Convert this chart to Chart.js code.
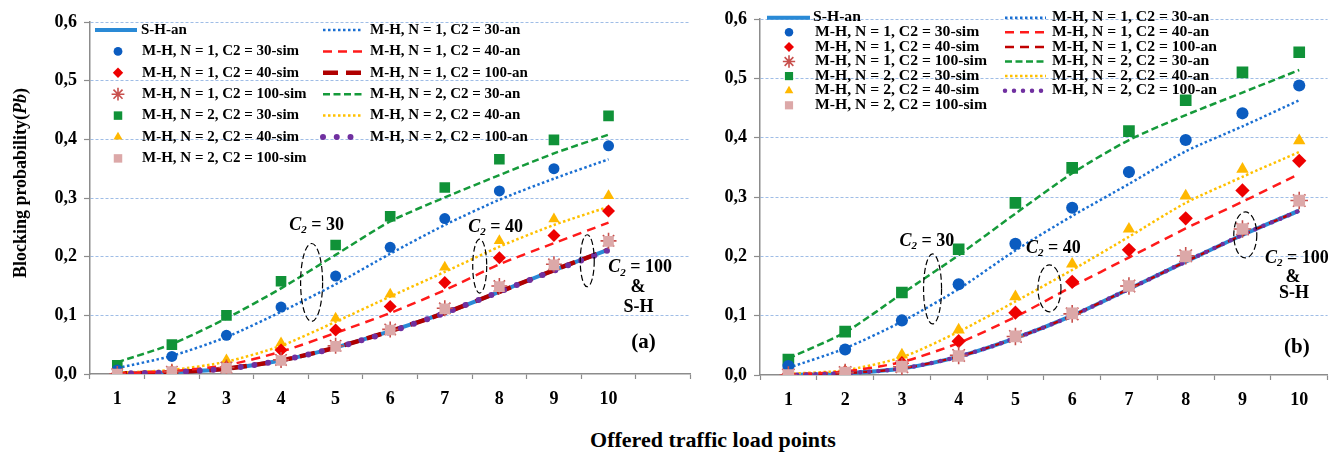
<!DOCTYPE html>
<html>
<head>
<meta charset="utf-8">
<script src="https://cdn.jsdelivr.net/npm/chart.js@4.4.1/dist/chart.umd.min.js"></script>
<style>
  body { margin: 0; background: #fff; width: 1338px; height: 457px; position: relative; overflow: hidden; }
  #wa { position: absolute; left: 0; top: 0; width: 700px; height: 420px; }
  #wb { position: absolute; left: 700px; top: 0; width: 638px; height: 420px; }
  #xt { position: absolute; left: 713px; top: 427px; transform: translateX(-50%); white-space: nowrap;
        font: bold 22px 'Liberation Serif', serif; color: #000; }
</style>
</head>
<body>
<div id="wa"><canvas id="ca"></canvas></div>
<div id="wb"><canvas id="cb"></canvas></div>
<div id="xt">Offered traffic load points</div>
<script>
const loads = ['1', '2', '3', '4', '5', '6', '7', '8', '9', '10'];
const yTicks = ['0,0', '0,1', '0,2', '0,3', '0,4', '0,5', '0,6'];

// (a)
const shAnA      = [0.001, 0.003, 0.009, 0.023, 0.045, 0.073, 0.104, 0.140, 0.177, 0.212];
const n1c30SimA  = [0.007, 0.030, 0.066, 0.114, 0.167, 0.216, 0.265, 0.312, 0.350, 0.389];
const n1c40SimA  = [0.001, 0.004, 0.012, 0.041, 0.075, 0.115, 0.156, 0.198, 0.236, 0.278];
const n1c100SimA = [0.000, 0.004, 0.011, 0.024, 0.048, 0.076, 0.112, 0.150, 0.187, 0.227];
const n2c30SimA  = [0.015, 0.050, 0.100, 0.158, 0.220, 0.269, 0.318, 0.366, 0.399, 0.440];
const n2c40SimA  = [0.002, 0.006, 0.024, 0.053, 0.095, 0.136, 0.182, 0.227, 0.264, 0.304];
const n2c100SimA = [0.000, 0.004, 0.010, 0.023, 0.047, 0.075, 0.111, 0.149, 0.186, 0.226];
const n1c30AnA   = [0.010, 0.031, 0.063, 0.106, 0.153, 0.205, 0.254, 0.297, 0.333, 0.366];
const n1c40AnA   = [0.001, 0.005, 0.015, 0.038, 0.070, 0.104, 0.143, 0.187, 0.223, 0.258];
const n1c100AnA  = [0.001, 0.003, 0.009, 0.023, 0.045, 0.073, 0.104, 0.140, 0.177, 0.212];
const n2c30AnA   = [0.020, 0.051, 0.095, 0.146, 0.203, 0.260, 0.301, 0.339, 0.376, 0.408];
const n2c40AnA   = [0.002, 0.007, 0.021, 0.048, 0.089, 0.132, 0.174, 0.217, 0.254, 0.285];
const n2c100AnA  = [0.001, 0.003, 0.009, 0.023, 0.045, 0.072, 0.104, 0.140, 0.176, 0.211];

// (b)
const shAnB      = [0.000, 0.003, 0.011, 0.031, 0.062, 0.100, 0.145, 0.191, 0.236, 0.277];
const n1c30SimB  = [0.015, 0.043, 0.092, 0.153, 0.221, 0.282, 0.342, 0.396, 0.441, 0.488];
const n1c40SimB  = [0.001, 0.005, 0.020, 0.057, 0.105, 0.157, 0.211, 0.264, 0.311, 0.361];
const n1c100SimB = [0.000, 0.004, 0.014, 0.033, 0.065, 0.103, 0.150, 0.201, 0.246, 0.294];
const n2c30SimB  = [0.026, 0.073, 0.139, 0.212, 0.290, 0.349, 0.411, 0.463, 0.510, 0.544];
const n2c40SimB  = [0.001, 0.006, 0.034, 0.076, 0.132, 0.187, 0.246, 0.302, 0.347, 0.395];
const n2c100SimB = [0.000, 0.004, 0.014, 0.032, 0.065, 0.104, 0.150, 0.200, 0.246, 0.294];
const n1c30AnB   = [0.012, 0.045, 0.090, 0.145, 0.210, 0.268, 0.322, 0.377, 0.419, 0.463];
const n1c40AnB   = [0.001, 0.006, 0.022, 0.054, 0.098, 0.149, 0.198, 0.247, 0.292, 0.339];
const n1c100AnB  = [0.000, 0.003, 0.011, 0.031, 0.062, 0.100, 0.145, 0.191, 0.236, 0.277];
const n2c30AnB   = [0.028, 0.072, 0.137, 0.202, 0.272, 0.340, 0.396, 0.438, 0.476, 0.514];
const n2c40AnB   = [0.002, 0.008, 0.030, 0.073, 0.124, 0.177, 0.233, 0.290, 0.334, 0.376];
const n2c100AnB  = [0.000, 0.003, 0.011, 0.031, 0.062, 0.100, 0.145, 0.191, 0.236, 0.277];

const names = {
  sh: 'S-H-an',
  s130: 'M-H, N = 1, C2 = 30-sim', s140: 'M-H, N = 1, C2 = 40-sim', s1100: 'M-H, N = 1, C2 = 100-sim',
  s230: 'M-H, N = 2, C2 = 30-sim', s240: 'M-H, N = 2, C2 = 40-sim', s2100: 'M-H, N = 2, C2 = 100-sim',
  a130: 'M-H, N = 1, C2 = 30-an', a140: 'M-H, N = 1, C2 = 40-an', a1100: 'M-H, N = 1, C2 = 100-an',
  a230: 'M-H, N = 2, C2 = 30-an', a240: 'M-H, N = 2, C2 = 40-an', a2100: 'M-H, N = 2, C2 = 100-an'
};

const SERIF = "'Liberation Serif', 'Times New Roman', serif";
Chart.defaults.font.family = SERIF;
Chart.defaults.font.weight = 'bold';
Chart.defaults.color = '#000';

function line(label, data, color, width, dash, order, cap) {
  return { label, data, borderColor: color, backgroundColor: color, borderWidth: width, borderDash: dash,
           borderCapStyle: cap || 'butt', pointRadius: 0, pointHoverRadius: 0, tension: 0.25, fill: false, order };
}
function mark(label, data, color, style, r, order) {
  const star = style === 'star';
  return { label, data, showLine: false, pointStyle: style, pointRadius: r, pointHoverRadius: r,
           pointBackgroundColor: color, pointBorderColor: color, pointBorderWidth: star ? 1.6 : 0,
           borderColor: color, backgroundColor: color, order };
}

// dataset order: 0 S-H, 1-6 sims, 7-12 analytical
function buildSets(sh, s, a, big) {
  const k = big ? 1 : 1.1;
  return [
    line(names.sh, sh, '#2a8ad6', 4, [], 6),
    mark(names.s130, s[0], '#0b5cc0', 'circle', 5.5 * k, 2),
    mark(names.s140, s[1], '#ee0000', 'rectRot', 6.5 * k, 2),
    mark(names.s1100, s[2], '#c8504d', 'star', 8 * k, 1),
    mark(names.s230, s[3], '#109238', 'rect', 7.5 * k, 2),
    mark(names.s240, s[4], '#ffb800', 'triangle', 6.5 * k, 2),
    mark(names.s2100, s[5], '#dca8a8', 'rect', 7.5 * k, 0),
    line(names.a130, a[0], '#1a6fd2', 2.5, [2.5, 2.5], 4),
    line(names.a140, a[1], '#ff1a1a', 2.5, [9, 6], 4),
    big ? line(names.a1100, a[2], '#b00000', 4.5, [15, 8], 5)
        : line(names.a1100, a[2], '#c00000', 2.5, [9, 6], 5),
    line(names.a230, a[3], '#159a3a', 2.5, [7, 3.5], 4),
    line(names.a240, a[4], '#ffc000', 2.5, [2.5, 2.5], 4),
    big ? line(names.a2100, a[5], '#7030a0', 6, [0, 13.75], 3, 'round')
        : line(names.a2100, a[5], '#7030a0', 4.5, [0, 9], 3, 'round')
  ];
}

function drawMarker(ctx, d, x, y, r) {
  ctx.save();
  ctx.fillStyle = d.pointBackgroundColor;
  ctx.strokeStyle = d.pointBorderColor;
  ctx.lineWidth = d.pointBorderWidth;
  Chart.helpers.drawPoint(ctx, { pointStyle: d.pointStyle, radius: r, rotation: 0, borderWidth: d.pointBorderWidth }, x, y);
  ctx.restore();
}
function drawSample(ctx, d, x0, x1, y) {
  ctx.save();
  ctx.strokeStyle = d.borderColor;
  ctx.lineWidth = d.borderWidth;
  ctx.setLineDash(d.borderDash || []);
  ctx.lineCap = d.borderCapStyle;
  ctx.beginPath();
  ctx.moveTo(x0, y);
  ctx.lineTo(x1, y);
  ctx.stroke();
  ctx.restore();
}

const legendPlugin = {
  id: 'twoColLegend',
  afterDatasetsDraw(chart, args, o) {
    const { ctx, chartArea: ca } = chart;
    const ds = chart.data.datasets;
    ctx.save();
    ctx.font = 'bold ' + o.font + 'px ' + SERIF;
    ctx.textBaseline = 'middle';
    ctx.fillStyle = '#000';
    const text = (t, x, y) => {
      ctx.save(); ctx.translate(x, y); ctx.scale(o.sx, 1); ctx.fillText(t, 0, 0); ctx.restore();
    };
    [0, 1, 2, 3, 4, 5, 6].forEach((di, row) => {
      const d = ds[di], y = ca.top + o.y0 + row * o.step;
      if (d.showLine === false) {
        drawMarker(ctx, d, ca.left + o.mx, y, d.pointRadius * o.ms);
        text(d.label, ca.left + o.tx, y);
      } else {
        drawSample(ctx, d, ca.left + o.sh[0], ca.left + o.sh[1], y);
        text(d.label, ca.left + o.sh[2], y);
      }
    });
    [7, 8, 9, 10, 11, 12].forEach((di, row) => {
      const d = ds[di], y = ca.top + o.y0 + row * o.step;
      drawSample(ctx, d, ca.left + o.c2[0], ca.left + o.c2[1], y);
      text(d.label, ca.left + o.c2[2], y);
    });
    ctx.restore();
  }
};

function drawC2(ctx, cx, cy, val, size) {
  const big = 'bold ' + size + 'px ' + SERIF;
  const ital = 'italic bold ' + size + 'px ' + SERIF;
  const sub = 'italic bold ' + Math.round(size * 0.62) + 'px ' + SERIF;
  const rest = ' = ' + val;
  ctx.font = ital; const wC = ctx.measureText('C').width;
  ctx.font = sub; const w2 = ctx.measureText('2').width;
  ctx.font = big; const wR = ctx.measureText(rest).width;
  let x = cx - (wC + w2 + wR) / 2;
  ctx.textAlign = 'left';
  ctx.font = ital; ctx.fillText('C', x, cy); x += wC;
  ctx.font = sub; ctx.fillText('2', x, cy + size * 0.28); x += w2;
  ctx.font = big; ctx.fillText(rest, x, cy);
}

const notesPlugin = {
  id: 'notes',
  afterDraw(chart, args, o) {
    const { ctx } = chart;
    const xs = chart.scales.x, ys = chart.scales.y;
    ctx.save();
    ctx.fillStyle = '#000';
    ctx.textBaseline = 'middle';
    o.items.forEach(it => {
      const x = xs.getPixelForValue(it.x), y = ys.getPixelForValue(it.y);
      if (it.rx) {
        ctx.beginPath();
        ctx.setLineDash([6, 3]);
        ctx.lineWidth = 1.2;
        ctx.strokeStyle = '#000';
        ctx.ellipse(x, y, it.rx, it.ry, 0, 0, Math.PI * 2);
        ctx.stroke();
        ctx.setLineDash([]);
      } else if (it.c2) {
        drawC2(ctx, x, y, it.c2, 18);
      } else {
        ctx.font = 'bold ' + (it.size || 18) + 'px ' + SERIF;
        ctx.textAlign = 'center';
        ctx.fillText(it.t, x, y);
      }
    });
    if (o.yTitle) {
      ctx.translate(21, 183);
      ctx.rotate(-Math.PI / 2);
      const f1 = 'bold 18px ' + SERIF, f2 = 'italic bold 18px ' + SERIF;
      ctx.font = f1; const a = ctx.measureText('Blocking probability(').width, c = ctx.measureText(')').width;
      ctx.font = f2; const b = ctx.measureText('Pb').width;
      let x = -(a + b + c) / 2;
      ctx.textAlign = 'left';
      ctx.font = f1; ctx.fillText('Blocking probability(', x, 0); x += a;
      ctx.font = f2; ctx.fillText('Pb', x, 0); x += b;
      ctx.font = f1; ctx.fillText(')', x, 0);
    }
    ctx.restore();
  }
};

function makeChart(id, labels, sets, cfg) {
  return new Chart(document.getElementById(id), {
    type: 'line',
    data: { labels, datasets: sets },
    options: {
      responsive: true,
      maintainAspectRatio: false,
      animation: false,
      events: [],
      layout: { padding: { top: cfg.top, right: cfg.right, left: 0, bottom: 0 } },
      plugins: {
        legend: { display: false },
        tooltip: { enabled: false },
        twoColLegend: cfg.legend,
        notes: cfg.notes
      },
      scales: {
        x: {
          type: 'category',
          offset: true,
          afterFit: s => { s.height = cfg.xh; },
          grid: { offset: true, drawOnChartArea: false, drawTicks: true, tickLength: 5, tickColor: '#8c8c8c', tickWidth: 1.2 },
          border: { display: true, color: '#8c8c8c', width: 1.5 },
          ticks: { font: { size: 18, weight: 'bold' }, color: '#000', padding: 10, maxRotation: 0, autoSkip: false }
        },
        y: {
          min: 0, max: 0.6,
          afterFit: s => { s.width = cfg.yw; },
          grid: {
            color: c => (c.tick && c.tick.value === 0) ? 'rgba(0,0,0,0)' : '#9fbde6',
            lineWidth: 1, tickLength: 6, tickColor: '#8c8c8c', tickWidth: 1.2
          },
          border: { display: true, color: '#8c8c8c', width: 1.5, dash: [3, 2] },
          ticks: { stepSize: 0.1, font: { size: 18, weight: 'bold' }, color: '#000', padding: 7,
                   callback: v => yTicks[Math.round(v * 10)] }
        }
      }
    },
    plugins: [legendPlugin, notesPlugin]
  });
}

makeChart('ca', loads.concat(['']),
  buildSets(shAnA, [n1c30SimA, n1c40SimA, n1c100SimA, n2c30SimA, n2c40SimA, n2c100SimA],
                   [n1c30AnA, n1c40AnA, n1c100AnA, n2c30AnA, n2c40AnA, n2c100AnA], true),
  {
    top: 22, right: 3, xh: 46, yw: 90,
    legend: { font: 15, sx: 1, y0: 8, step: 21.4, mx: 28, ms: 0.8, tx: 52, sh: [5, 47, 51], c2: [233, 273, 280] },
    notes: { yTitle: true, items: [
      { x: 3.65, y: 0.254, c2: '30' },
      { x: 3.56, y: 0.156, rx: 11, ry: 39 },
      { x: 6.93, y: 0.250, c2: '40' },
      { x: 6.64, y: 0.184, rx: 7, ry: 27 },
      { x: 8.61, y: 0.193, rx: 7, ry: 26 },
      { x: 9.58, y: 0.181, c2: '100' },
      { x: 9.54, y: 0.147, t: '&' },
      { x: 9.55, y: 0.114, t: 'S-H' },
      { x: 9.64, y: 0.053, t: '(a)', size: 21 }
    ] }
  });

makeChart('cb', loads,
  buildSets(shAnB, [n1c30SimB, n1c40SimB, n1c100SimB, n2c30SimB, n2c40SimB, n2c100SimB],
                   [n1c30AnB, n1c40AnB, n1c100AnB, n2c30AnB, n2c40AnB, n2c100AnB], false),
  {
    top: 19, right: 6, xh: 45, yw: 60,
    legend: { font: 14, sx: 1.12, y0: -1.3, step: 14.6, mx: 29, ms: 0.7, tx: 55, sh: [7, 50, 53], c2: [245, 286, 292] },
    notes: { yTitle: false, items: [
      { x: 2.44, y: 0.226, c2: '30' },
      { x: 2.54, y: 0.145, rx: 9, ry: 35 },
      { x: 4.67, y: 0.214, c2: '40' },
      { x: 4.60, y: 0.146, rx: 11.5, ry: 23.5 },
      { x: 8.05, y: 0.236, rx: 11.5, ry: 23 },
      { x: 8.96, y: 0.197, c2: '100' },
      { x: 8.89, y: 0.165, t: '&' },
      { x: 8.91, y: 0.137, t: 'S-H' },
      { x: 8.96, y: 0.046, t: '(b)', size: 21 }
    ] }
  });
</script>
</body>
</html>
